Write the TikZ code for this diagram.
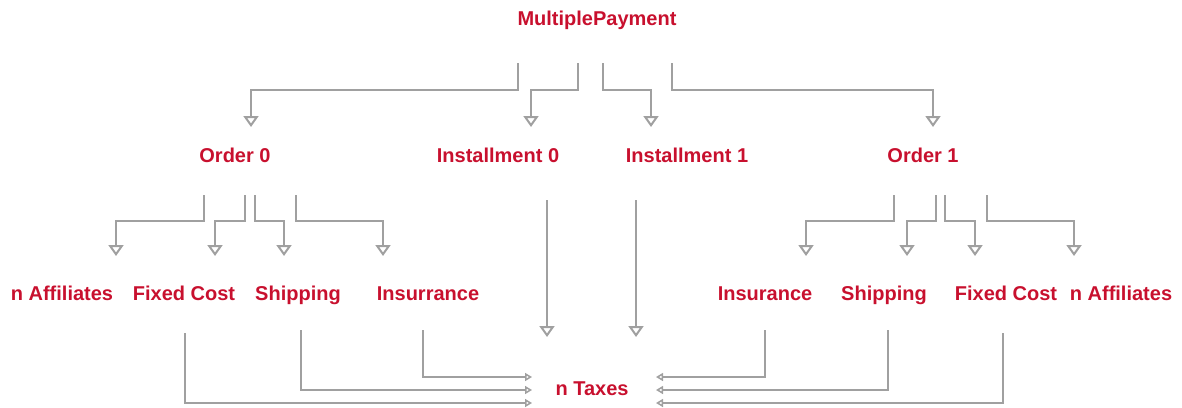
\documentclass[tikz,border=0pt]{standalone}
\usepackage{fontspec}
\setmainfont{Liberation Sans}
\usetikzlibrary{arrows.meta}
\definecolor{lbl}{HTML}{C8102E}
\definecolor{ln}{HTML}{A0A0A0}
\begin{document}
\begin{tikzpicture}[x=1pt,y=-1pt,
 lab/.style={font=\bfseries\fontsize{20}{24}\selectfont, text=lbl, anchor=base, inner sep=0},
 conn/.style={draw=ln, line width=2pt, -{Triangle[open,width=15pt,length=11pt,line width=2pt]}},
 tconn/.style={draw=ln, line width=2pt, -{Triangle[open,width=8pt,length=7pt,line width=1.5pt]}}]
\useasboundingbox (0,0) rectangle (1182,407);
% labels
\node[lab] (mp) at (597,25) {MultiplePayment};
\node[lab] (o0) at (235,162) {Order 0};
\node[lab] (i0) at (498,162) {Installment 0};
\node[lab] (i1) at (687,162) {Installment 1};
\node[lab] (o1) at (923,162) {Order 1};
\node[lab] (a0) at (62,300) {n Affiliates};
\node[lab] (f0) at (184,300) {Fixed Cost};
\node[lab] (s0) at (298,300) {Shipping};
\node[lab] (u0) at (428,300) {Insurrance};
\node[lab] (u1) at (765,300) {Insurance};
\node[lab] (s1) at (884,300) {Shipping};
\node[lab] (f1) at (1006,300) {Fixed Cost};
\node[lab] (a1) at (1121,300) {n Affiliates};
\node[lab] (tx) at (592,395) {n Taxes};
% MultiplePayment -> children
\draw[conn] (518,63) |- (251,90) -- (251,127);
\draw[conn] (578,63) |- (531,90) -- (531,127);
\draw[conn] (603,63) |- (651,90) -- (651,127);
\draw[conn] (672,63) |- (933,90) -- (933,127);
% Order 0 -> children
\draw[conn] (204,195) |- (116,221) -- (116,256);
\draw[conn] (245,195) |- (215,221) -- (215,256);
\draw[conn] (255,195) |- (284,221) -- (284,256);
\draw[conn] (296,195) |- (383,221) -- (383,256);
% Order 1 -> children
\draw[conn] (894,195) |- (806,221) -- (806,256);
\draw[conn] (936,195) |- (907,221) -- (907,256);
\draw[conn] (945,195) |- (975,221) -- (975,256);
\draw[conn] (987,195) |- (1074,221) -- (1074,256);
% Installments -> taxes
\draw[conn] (547,200) -- (547,337);
\draw[conn] (636,200) -- (636,337);
% bottom to taxes
\draw[tconn] (185,333) |- (532,403);
\draw[tconn] (301,330) |- (532,390);
\draw[tconn] (423,330) |- (532,377);
\draw[tconn] (1003,333) |- (656,403);
\draw[tconn] (888,330) |- (656,390);
\draw[tconn] (765,330) |- (656,377);
\end{tikzpicture}
\end{document}
